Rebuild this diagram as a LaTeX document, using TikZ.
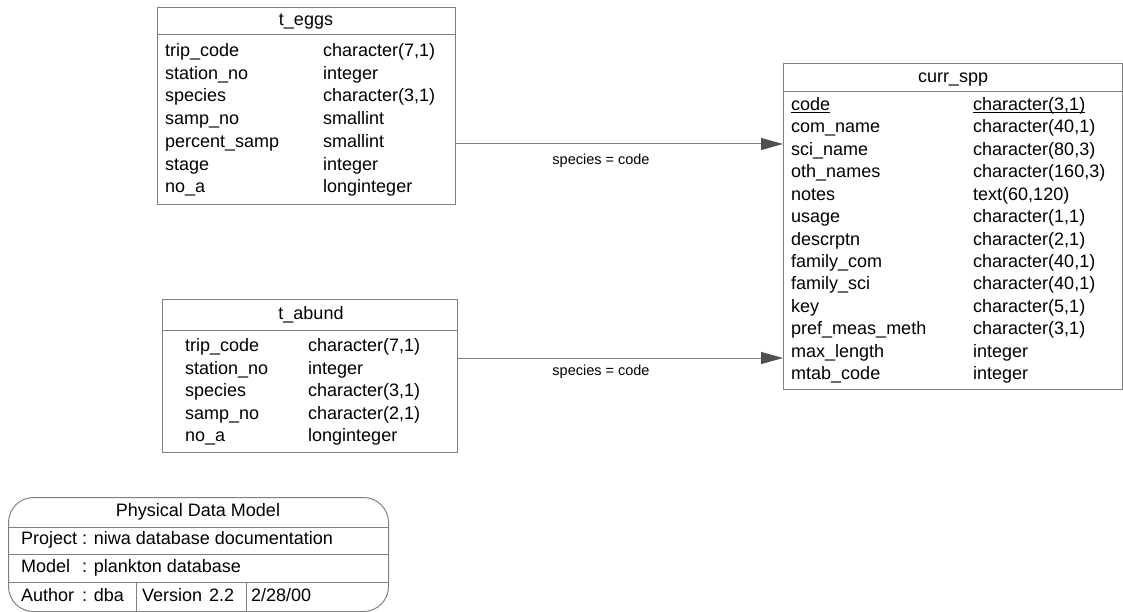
\documentclass[tikz,border=0pt]{standalone}
\usepackage{fontspec}
\setmainfont{Liberation Sans}
\usetikzlibrary{arrows.meta,calc}
\definecolor{bordergray}{HTML}{808080}
\definecolor{headgray}{HTML}{505050}
\begin{document}
\begin{tikzpicture}[x=1pt,y=-1pt,
  tablebox/.style={draw=bordergray, line width=1pt, anchor=north west, inner sep=0pt, rectangle},
  cell/.style={anchor=west, inner sep=0pt, font=\fontsize{18}{21}\selectfont, text height=12.8pt, text depth=3.6pt},
  hcell/.style={cell, anchor=center},
  lbl/.style={inner sep=0pt, font=\fontsize{14.5}{17}\selectfont, text height=10.5pt, text depth=3pt},
  sep/.style={draw=bordergray, line width=1pt},
  uline/.style={draw=black, line width=0.9pt},
  conn/.style={draw=bordergray, line width=1pt, -{Triangle[length=22pt,width=12pt,color=headgray]}}
]
\useasboundingbox (0,0) rectangle (1123,612);

% ---------- t_eggs ----------
\node[tablebox, minimum width=298pt, minimum height=197pt] (eggs) at (157,7) {};
\draw[sep] ($(eggs.north west)+(0,28)$) -- ($(eggs.north east)+(0,28)$);
\node[hcell] (eggs-h) at (306,21) {t\_eggs};
\foreach \n/\t [count=\i] in {{trip\_code}/{character(7,1)},{station\_no}/{integer},{species}/{character(3,1)},{samp\_no}/{smallint},{percent\_samp}/{smallint},{stage}/{integer},{no\_a}/{longinteger}}{
  \node[cell] (eggs-a\i) at (165,{52+22.7*(\i-1)}) {\n};
  \node[cell] (eggs-b\i) at (323,{52+22.7*(\i-1)}) {\t};
}

% ---------- t_abund ----------
\node[tablebox, minimum width=295pt, minimum height=153pt] (abund) at (162,299) {};
\draw[sep] ($(abund.north west)+(0,31)$) -- ($(abund.north east)+(0,31)$);
\node[hcell] (abund-h) at (311,314.5) {t\_abund};
\foreach \n/\t [count=\i] in {{trip\_code}/{character(7,1)},{station\_no}/{integer},{species}/{character(3,1)},{samp\_no}/{character(2,1)},{no\_a}/{longinteger}}{
  \node[cell] (abund-a\i) at (185,{347+22.5*(\i-1)}) {\n};
  \node[cell] (abund-b\i) at (308,{347+22.5*(\i-1)}) {\t};
}

% ---------- curr_spp ----------
\node[tablebox, minimum width=339pt, minimum height=326pt] (spp) at (783,63) {};
\draw[sep] ($(spp.north west)+(0,29)$) -- ($(spp.north east)+(0,29)$);
\node[hcell] (spp-h) at (953,77.5) {curr\_spp};
\foreach \n/\t [count=\i] in {{code}/{character(3,1)},{com\_name}/{character(40,1)},{sci\_name}/{character(80,3)},{oth\_names}/{character(160,3)},{notes}/{text(60,120)},{usage}/{character(1,1)},{descrptn}/{character(2,1)},{family\_com}/{character(40,1)},{family\_sci}/{character(40,1)},{key}/{character(5,1)},{pref\_meas\_meth}/{character(3,1)},{max\_length}/{integer},{mtab\_code}/{integer}}{
  \node[cell] (spp-a\i) at (791,{106+22.4*(\i-1)}) {\n};
  \node[cell] (spp-b\i) at (973,{106+22.4*(\i-1)}) {\t};
}
% primary key underlines
\draw[uline] ($(spp-a1.base west)+(0,2)$) -- ($(spp-a1.base east)+(0,2)$);
\draw[uline] ($(spp-b1.base west)+(0,2)$) -- ($(spp-b1.base east)+(0,2)$);

% ---------- connectors ----------
\coordinate (c1) at (600,144);
\draw[conn] (eggs.east |- c1) -- (spp.west |- c1);
\node[lbl] (l1) at (601,161) {species = code};
\coordinate (c2) at (600,358);
\draw[conn] (abund.east |- c2) -- (spp.west |- c2);
\node[lbl] (l2) at (601,372) {species = code};

% ---------- title block ----------
\node[draw=bordergray, line width=1pt, rounded corners=25pt, minimum width=380pt, minimum height=114pt, anchor=north west, inner sep=0pt] (title) at (8,497) {};
\coordinate (v1) at (136,582);
\coordinate (v2) at (246,582);
\draw[sep] (title.west |- v1) -- (title.east |- v1);
\draw[sep] ($(title.west |- v1)+(0,-28)$) -- ($(title.east |- v1)+(0,-28)$);
\draw[sep] ($(title.west |- v1)+(0,-55)$) -- ($(title.east |- v1)+(0,-55)$);
\draw[sep] (v1) -- (v1 |- title.south);
\draw[sep] (v2) -- (v2 |- title.south);
\node[hcell] (t0) at (198,512) {Physical Data Model};
\node[cell] (t1a) at (21,540) {Project};
\node[cell] (t1b) at (82,540) {: niwa database documentation};
\node[cell] (t2a) at (21,568) {Model};
\node[cell] (t2b) at (82,568) {: plankton database};
\node[cell] (t3a) at (21,597) {Author};
\node[cell] (t3b) at (82,597) {: dba};
\node[cell] (t3c) at (142,597) {Version};
\node[cell] (t3d) at (209,597) {2.2};
\node[cell] (t3e) at (251,597) {2/28/00};
\end{tikzpicture}
\end{document}
